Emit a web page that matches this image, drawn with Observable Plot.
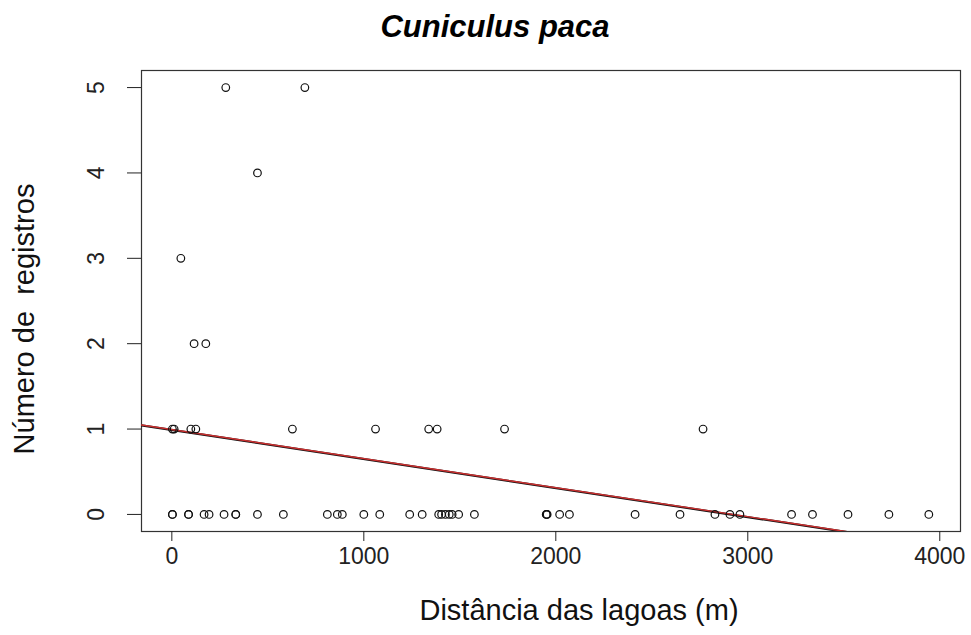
<!DOCTYPE html>
<html>
<head>
<meta charset="utf-8">
<script src="https://cdn.jsdelivr.net/npm/d3@7"></script>
<script src="https://cdn.jsdelivr.net/npm/@observablehq/plot@0.6"></script>
<style>
  html, body { margin: 0; padding: 0; background: #fff; }
  #chart { width: 971px; height: 635px; }
</style>
</head>
<body>
<div id="chart"></div>
<script>
// Data
const dist0 = [3, 3, 87, 87, 168, 194, 272, 333, 333, 446, 581, 810, 862, 888, 1000, 1083, 1239, 1304, 1390, 1405, 1425, 1445, 1460, 1494, 1576, 1950, 1952, 1955, 2020, 2071, 2413, 2647, 2829, 2907, 2959, 3228, 3337, 3522, 3735, 3943];
const dist1 = [3, 12, 99, 125, 628, 1061, 1338, 1382, 1733, 2767];
const dist2 = [116, 177];
const dist3 = [47];
const dist4 = [446];
const dist5 = [281, 693];
const xTicks = [0, 1000, 2000, 3000, 4000];
const yTicks = [0, 1, 2, 3, 4, 5];
const fitIntercept = 0.989;
const fitSlope = -0.00034;
const xDomain = [-158, 4108];
const yDomain = [-0.2, 5.2];
const titleText = "Cuniculus paca";
const xLabel = "Distância das lagoas (m)";
const yLabel = "Número de  registros";

const points = [
  ...dist0.map(x => ({x, y: 0})),
  ...dist1.map(x => ({x, y: 1})),
  ...dist2.map(x => ({x, y: 2})),
  ...dist3.map(x => ({x, y: 3})),
  ...dist4.map(x => ({x, y: 4})),
  ...dist5.map(x => ({x, y: 5}))
];
const fitLine = xDomain.map(x => ({x, y: fitIntercept + fitSlope * x}));

const font = "Liberation Sans, Arial, sans-serif";

const chart = Plot.plot({
  width: 971,
  height: 635,
  marginLeft: 141,
  marginRight: 11,
  marginTop: 70,
  marginBottom: 104,
  style: {fontFamily: font, background: "#fff", color: "#222"},
  x: {domain: xDomain},
  y: {domain: yDomain},
  marks: [
    Plot.frame({stroke: "#333", strokeWidth: 1.2}),
    Plot.axisX({ticks: xTicks, tickSize: 10, tickPadding: 6, fontSize: 23, label: null, tickFormat: d => String(d), stroke: "#222"}),
    Plot.axisY({ticks: yTicks, tickSize: 14, tickPadding: 24, tickRotate: -90, fontSize: 23, label: null, tickFormat: d => String(d), stroke: "#222"}),
    Plot.line(fitLine, {x: "x", y: "y", stroke: "#111", strokeWidth: 2.2, clip: true}),
    Plot.line(fitLine, {x: "x", y: "y", stroke: "#cc3030", strokeWidth: 1.4, dy: -0.4, clip: true}),
    Plot.dot(points, {x: "x", y: "y", r: 3.8, stroke: "#111", strokeWidth: 1.2, fill: "none"}),
    Plot.text([titleText], {frameAnchor: "top", text: d => d, dx: -56, dy: -56, fontSize: 31, fontWeight: "bold", fontStyle: "italic", fill: "#000"}),
    Plot.text([xLabel], {frameAnchor: "bottom", text: d => d, dx: 28, dy: 88, fontSize: 29, fill: "#111"}),
    Plot.text([yLabel], {frameAnchor: "left", textAnchor: "middle", text: d => d, dx: -117, dy: 18, rotate: -90, fontSize: 29, fill: "#111"})
  ]
});
document.getElementById("chart").appendChild(chart);
chart.querySelectorAll("text").forEach(t => t.setAttribute("xml:space", "preserve"));
</script>
</body>
</html>
